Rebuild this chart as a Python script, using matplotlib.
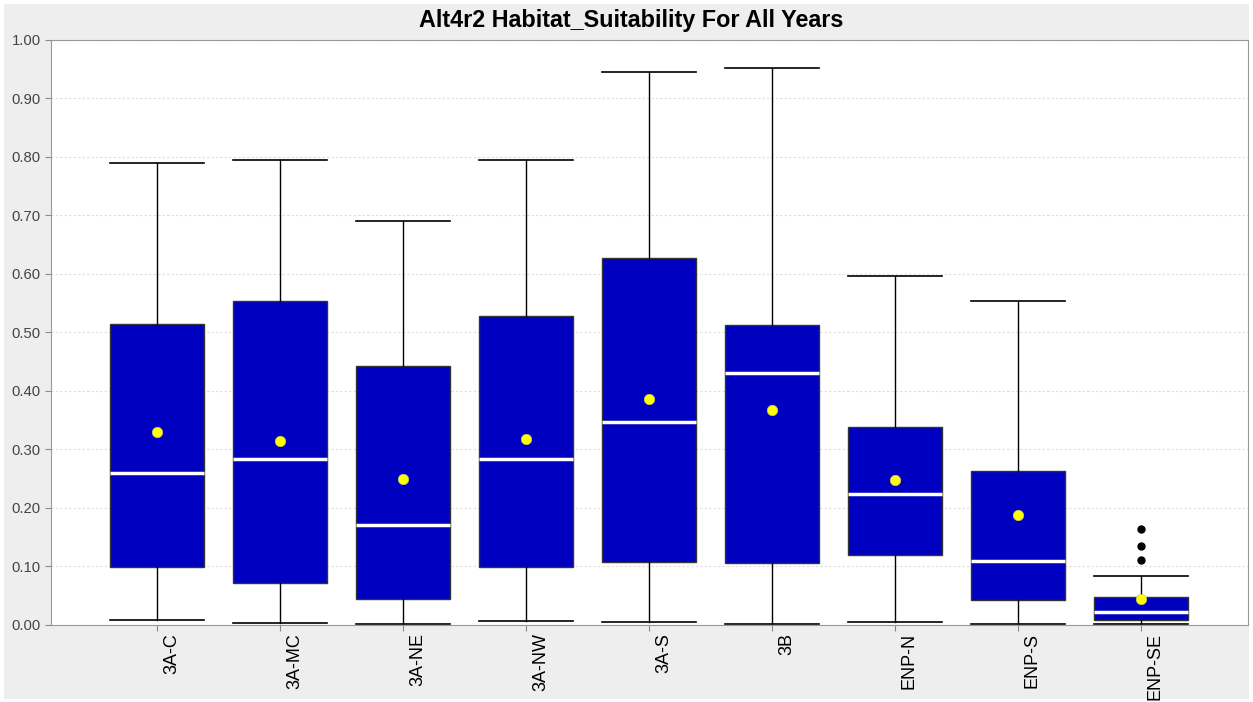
import matplotlib.pyplot as plt
from matplotlib.patches import Rectangle
from matplotlib.transforms import ScaledTranslation

plt.rcParams['font.family'] = ['Liberation Sans', 'DejaVu Sans']

regions = ['3A-C', '3A-MC', '3A-NE', '3A-NW', '3A-S', '3B', 'ENP-N', 'ENP-S', 'ENP-SE']
whisker_low = [0.009, 0.003, 0.001, 0.007, 0.005, 0.002, 0.005, 0.002, 0.002]
q1 = [0.099, 0.072, 0.044, 0.099, 0.108, 0.106, 0.120, 0.043, 0.008]
median = [0.260, 0.284, 0.171, 0.284, 0.347, 0.430, 0.224, 0.109, 0.023]
q3 = [0.514, 0.553, 0.442, 0.528, 0.627, 0.512, 0.338, 0.263, 0.048]
whisker_high = [0.789, 0.794, 0.690, 0.794, 0.944, 0.951, 0.596, 0.553, 0.084]
mean = [0.330, 0.314, 0.249, 0.318, 0.386, 0.367, 0.248, 0.188, 0.044]
outliers = [[], [], [], [], [], [], [], [], [0.111, 0.135, 0.164]]

stats = []
for i, name in enumerate(regions):
    stats.append({
        'label': name, 'whislo': whisker_low[i], 'q1': q1[i], 'med': median[i],
        'q3': q3[i], 'whishi': whisker_high[i], 'mean': mean[i], 'fliers': outliers[i],
    })

fig = plt.figure(figsize=(12.53, 7.02), dpi=100)
fig.patches.append(Rectangle((0.003, 0.004), 0.994, 0.99, transform=fig.transFigure,
                             facecolor='#eeeeee', edgecolor='none', zorder=-10))
ax = fig.add_axes([0.0407, 0.1097, 0.9553, 0.834])

box_w = 0.765
ax.bxp(stats, positions=range(len(regions)), widths=box_w, capwidths=box_w,
       patch_artist=True, showmeans=True, showfliers=True,
       boxprops=dict(facecolor='#0000c0', edgecolor='#333333', linewidth=1),
       medianprops=dict(color='white', linewidth=2.5),
       whiskerprops=dict(color='black', linewidth=1),
       capprops=dict(color='black', linewidth=1.2),
       meanprops=dict(marker='o', markerfacecolor='#ffff00', markeredgecolor='#c8c860',
                      markeredgewidth=0.5, markersize=7.5),
       flierprops=dict(marker='o', markerfacecolor='black', markeredgecolor='black',
                       markersize=5))

ax.set_xlim(-0.862, 8.87)
ax.set_ylim(0, 1.0)
ax.set_yticks([i / 10 for i in range(11)])
ax.set_yticklabels([f'{i / 10:.2f}' for i in range(11)])
ax.set_xticks(range(len(regions)))
ax.set_xticklabels([''] * len(regions))

# category names sit just right of their ticks, reading bottom-to-top
label_tr = ax.get_xaxis_transform() + ScaledTranslation(6 / 100, -8 / 100, fig.dpi_scale_trans)
for i, name in enumerate(regions):
    ax.text(i, 0, name, rotation=90, ha='left', va='top', fontsize=13,
            color='black', transform=label_tr)

ax.tick_params(axis='y', labelsize=10.7, labelcolor='#444444', color='#888888', length=4)
ax.tick_params(axis='x', color='#888888', length=4)
ax.yaxis.grid(True, color='#dddddd', linestyle=(0, (2, 2)), linewidth=0.8)
ax.set_axisbelow(True)
for spine in ax.spines.values():
    spine.set_color('#999999')

fig.text(0.504, 0.971, 'Alt4r2 Habitat_Suitability For All Years', fontsize=16.8,
         fontweight='bold', ha='center', va='center')

fig.savefig('out.png', dpi=100)
